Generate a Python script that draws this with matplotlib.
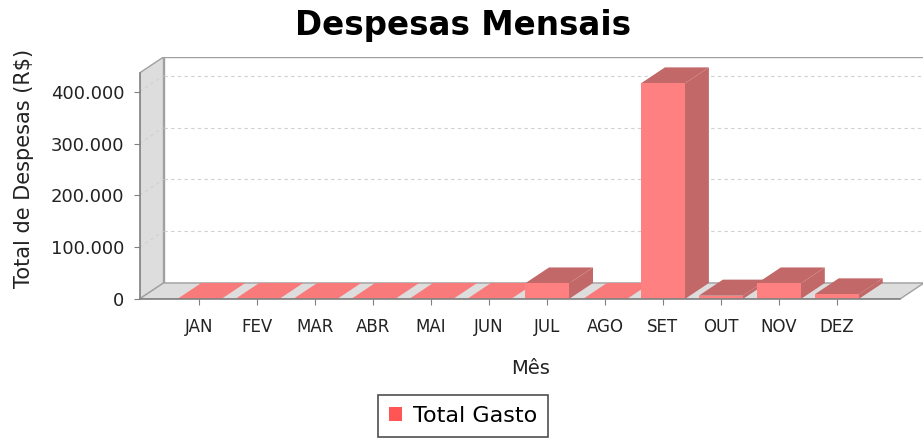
import matplotlib
matplotlib.use("Agg")
import matplotlib.pyplot as plt
from matplotlib.patches import Polygon, Rectangle, Patch
from matplotlib.ticker import FuncFormatter

# data
meses = ["JAN", "FEV", "MAR", "ABR", "MAI", "JUN", "JUL", "AGO", "SET", "OUT", "NOV", "DEZ"]
total_gasto = [0, 0, 0, 0, 0, 0, 30000, 0, 416000, 6500, 30000, 9000]
y_ticks = [0, 100000, 200000, 300000, 400000]

# 3d look (data units)
PX_CAT = 57.95          # px per category
PX_VAL = 51.83 / 100000 # px per value unit
DX = 24 / PX_CAT
DY = 16 / PX_VAL
BAR_W = 44 / PX_CAT

FRONT_L = (139.5 - 199.3) / PX_CAT
FRONT_R = (900 - 199.3) / PX_CAT
YMAX = (299 - 57) / PX_VAL

FRONT_COL = "#ff8080"
DARK_COL = "#c26868"
WALL_COL = "#dddddd"
EDGE_COL = "#a0a0a0"
GRID_COL = "#d0d0d0"

W, H = 923, 438
fig = plt.figure(figsize=(W / 100, H / 100), dpi=100)

ax_l = 139.5
ax_r = ax_l + (FRONT_R + DX - FRONT_L) * PX_CAT
ax = fig.add_axes([ax_l / W, (H - 299) / H, (ax_r - ax_l) / W, (299 - 57) / H])
ax.set_xlim(FRONT_L, FRONT_R + DX)
ax.set_ylim(0, YMAX)
ax.patch.set_alpha(0)

# back wall
ax.add_patch(Rectangle((FRONT_L + DX, DY), FRONT_R - FRONT_L, YMAX - DY,
                       facecolor="white", edgecolor=EDGE_COL, lw=1, zorder=0))
# left wall
ax.add_patch(Polygon([(FRONT_L, 0), (FRONT_L + DX, DY), (FRONT_L + DX, YMAX),
                      (FRONT_L, YMAX - DY)], closed=True,
                     facecolor=WALL_COL, edgecolor=EDGE_COL, lw=1, zorder=1))
# floor
ax.add_patch(Polygon([(FRONT_L, 0), (FRONT_R, 0), (FRONT_R + DX, DY),
                      (FRONT_L + DX, DY)], closed=True,
                     facecolor=WALL_COL, edgecolor=EDGE_COL, lw=1, zorder=1))

# gridlines on the walls
for v in y_ticks[1:]:
    ax.plot([FRONT_L + DX, FRONT_R + DX], [v + DY, v + DY], color=GRID_COL,
            lw=0.8, ls=(0, (3, 3)), zorder=1.5)
    ax.plot([FRONT_L, FRONT_L + DX], [v, v + DY], color=GRID_COL,
            lw=0.8, ls=(0, (3, 3)), zorder=1.5)

# bars
for i, v in enumerate(total_gasto):
    x0 = i - BAR_W / 2
    x1 = i + BAR_W / 2
    z = 3 + i * 0.01
    if v == 0:
        ax.add_patch(Polygon([(x0, 0), (x1, 0), (x1 + DX, DY), (x0 + DX, DY)],
                             closed=True, facecolor="#f87a7a", lw=0, zorder=z))
        continue
    ax.add_patch(Polygon([(x1, 0), (x1 + DX, DY), (x1 + DX, v + DY), (x1, v)],
                         closed=True, facecolor=DARK_COL, lw=0, zorder=z))
    ax.add_patch(Polygon([(x0, v), (x1, v), (x1 + DX, v + DY), (x0 + DX, v + DY)],
                         closed=True, facecolor=DARK_COL, lw=0, zorder=z))
    ax.add_patch(Rectangle((x0, 0), BAR_W, v, facecolor=FRONT_COL, lw=0, zorder=z))

# axes
for s in ["top", "right"]:
    ax.spines[s].set_visible(False)
ax.spines["left"].set_bounds(0, YMAX - DY)
ax.spines["bottom"].set_bounds(FRONT_L, FRONT_R)
for s in ["left", "bottom"]:
    ax.spines[s].set_color("#808080")
    ax.spines[s].set_linewidth(1.2)
    ax.spines[s].set_zorder(5)

ax.set_yticks(y_ticks)
ax.yaxis.set_major_formatter(FuncFormatter(lambda v, p: f"{int(v):,}".replace(",", ".")))
ax.set_xticks(range(len(meses)))
ax.set_xticklabels(meses)
ax.tick_params(axis="y", length=4, color="#808080", pad=7, labelsize=13, labelcolor="#222222")
ax.tick_params(axis="x", length=4, color="#808080", pad=10, labelsize=12, labelcolor="#222222")

# texts
fig.text(463 / W, 1 - 25 / H, "Despesas Mensais", ha="center", va="center",
         fontsize=23.5, fontweight="bold")
fig.text(24 / W, 1 - 168 / H, "Total de Despesas (R$)", ha="center", va="center",
         rotation=90, fontsize=15, color="#222222")
fig.text(531 / W, 1 - 368 / H, "Mês", ha="center", va="center", fontsize=14,
         color="#222222")

leg = fig.legend(handles=[Patch(facecolor="#ff5555", edgecolor="none", label="Total Gasto")],
                 loc="center", bbox_to_anchor=(463 / W, 1 - 416 / H), fontsize=16,
                 frameon=True, fancybox=False, handlelength=0.6, handleheight=0.6,
                 handletextpad=0.5, borderpad=0.5)
leg.get_frame().set_edgecolor("#222222")
leg.get_frame().set_linewidth(1.2)

fig.savefig("out.png", dpi=100)
